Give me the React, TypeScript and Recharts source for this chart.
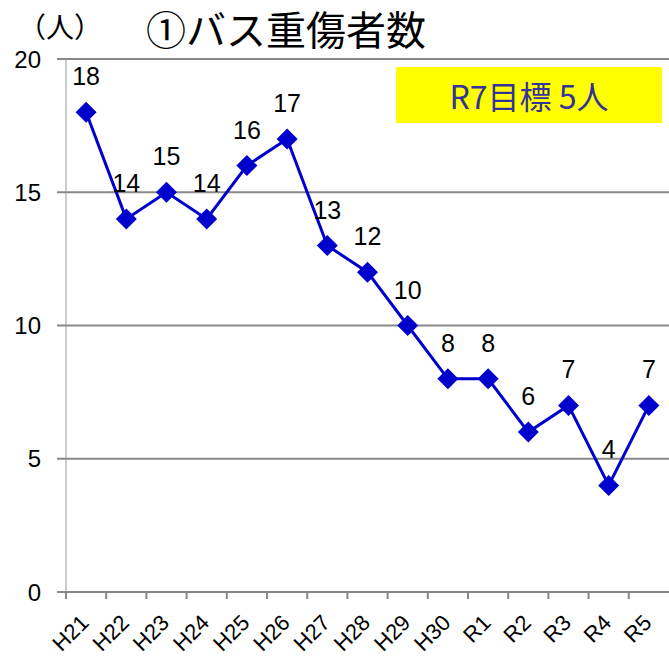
import { CartesianGrid, LabelList, Line, LineChart, XAxis, YAxis } from "recharts";

const years = ["H21", "H22", "H23", "H24", "H25", "H26", "H27", "H28", "H29", "H30", "R1", "R2", "R3", "R4", "R5"];
const seriousInjuries = [18, 14, 15, 14, 16, 17, 13, 12, 10, 8, 8, 6, 7, 4, 7];
const yTicks = [0, 5, 10, 15, 20];

const data = years.map((year, i) => ({ year, value: seriousInjuries[i] }));

const W = 669;
const H = 656;
const AXIS_W = 66;
const BAND = (W - AXIS_W) / years.length;
const LABEL_FONT = "'Liberation Sans', Arial, sans-serif";
const JP_FONT = "'Noto Sans CJK JP', 'Noto Sans', sans-serif";

function Diamond(props: any) {
  const { cx, cy } = props;
  if (cx == null || cy == null) return null;
  const r = 10.5;
  return <polygon points={`${cx},${cy - r} ${cx + r},${cy} ${cx},${cy + r} ${cx - r},${cy}`} fill="#0000CC" />;
}

function YearTick(props: any) {
  const { x, y, payload } = props;
  const tx = x + 4;
  const ty = y + 32;
  return (
    <g>
      <line x1={x - BAND / 2} x2={x - BAND / 2} y1={y} y2={y + 7} stroke="#888" strokeWidth={2} />
      <text
        x={tx}
        y={ty}
        textAnchor="end"
        transform={`rotate(-45, ${tx}, ${ty})`}
        fontSize={22}
        fontFamily={LABEL_FONT}
        fill="#000"
      >
        {payload.value}
      </text>
    </g>
  );
}

function ValueLabel(props: any) {
  const { x, y, value } = props;
  return (
    <text x={x} y={y - 27} textAnchor="middle" fontSize={25} fontFamily={LABEL_FONT} fill="#000">
      {value}
    </text>
  );
}

export default function App() {
  return (
    <div style={{ position: "absolute", left: 0, top: 0, width: W, height: H, background: "#fff" }}>
      <LineChart width={W} height={H} data={data} margin={{ top: 59, right: 0, bottom: 0, left: 0 }}>
        <CartesianGrid vertical={false} stroke="#888" strokeWidth={2} />
        <XAxis
          dataKey="year"
          interval={0}
          height={64}
          padding={{ left: BAND / 2, right: BAND / 2 }}
          tickLine={false}
          tickSize={0}
          tickMargin={0}
          axisLine={{ stroke: "#888", strokeWidth: 2 }}
          tick={<YearTick />}
        />
        <YAxis
          domain={[0, 20]}
          ticks={yTicks}
          width={AXIS_W}
          axisLine={{ stroke: "#999", strokeWidth: 1 }}
          tickLine={{ stroke: "#888", strokeWidth: 2 }}
          tickSize={9}
          tickMargin={16}
          tick={{ fontSize: 24, fill: "#000", fontFamily: LABEL_FONT }}
        />
        <Line
          type="linear"
          dataKey="value"
          stroke="#0000CC"
          strokeWidth={3}
          dot={<Diamond />}
          activeDot={false}
          isAnimationActive={false}
        >
          <LabelList dataKey="value" content={<ValueLabel />} />
        </Line>
      </LineChart>

      <div
        style={{
          position: "absolute",
          left: 18,
          top: 12,
          fontSize: 28,
          lineHeight: 1,
          fontFamily: JP_FONT,
          color: "#000",
        }}
      >
        （人）
      </div>
      <div
        style={{
          position: "absolute",
          left: 146,
          top: 8,
          fontSize: 40,
          lineHeight: 1,
          fontFamily: JP_FONT,
          color: "#000",
          whiteSpace: "nowrap",
        }}
      >
        ①バス重傷者数
      </div>
      <div
        style={{
          position: "absolute",
          left: 396,
          top: 67,
          width: 266,
          height: 56,
          background: "#FFFF00",
          display: "flex",
          alignItems: "center",
          justifyContent: "center",
          fontSize: 32,
          fontFamily: JP_FONT,
          color: "#333399",
          whiteSpace: "nowrap",
        }}
      >
        R7目標 5人
      </div>
    </div>
  );
}
